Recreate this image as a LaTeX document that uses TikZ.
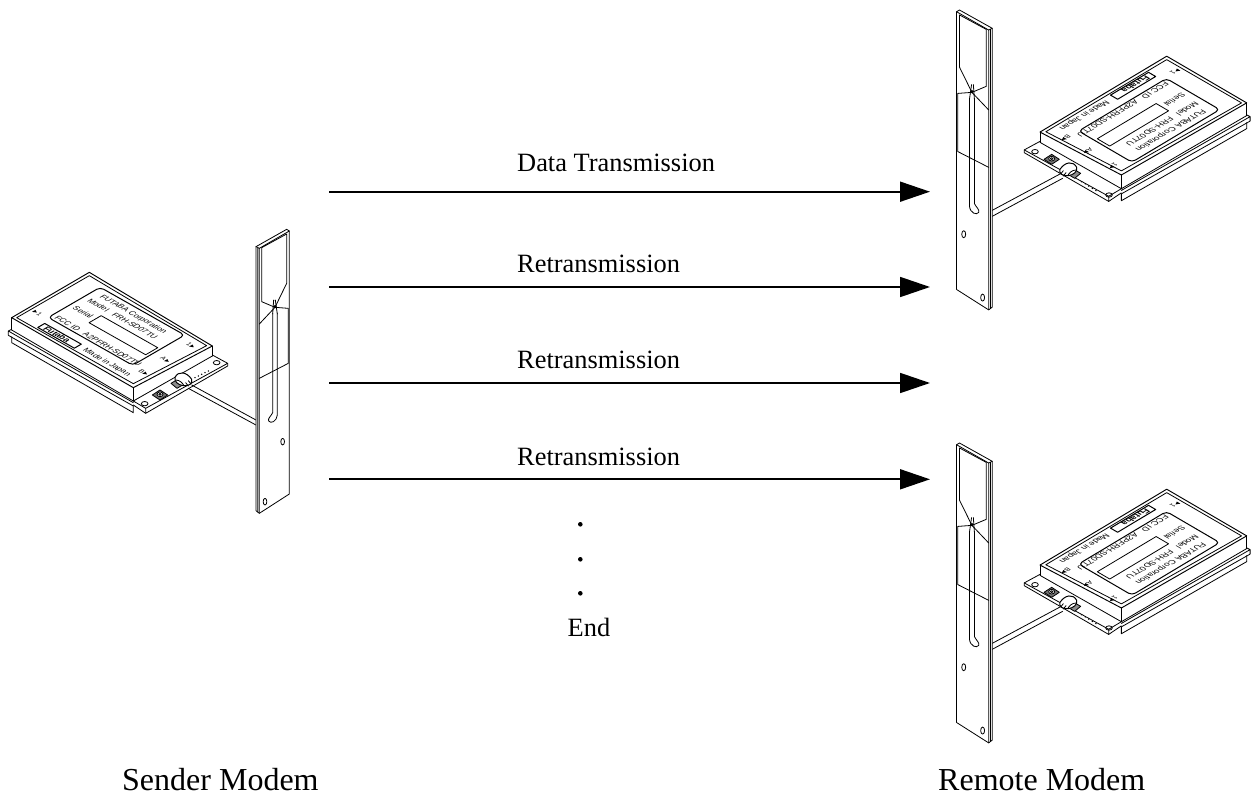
\documentclass[tikz,border=0pt]{standalone}
\usepackage{fontspec}
\setmainfont{Liberation Serif}
\newfontfamily\platefont{Liberation Sans}
\usetikzlibrary{arrows.meta}
\tikzset{
  lbl/.style={anchor=base west,inner sep=0pt,font=\fontsize{26.4}{30}\selectfont},
  captiontext/.style={anchor=base west,inner sep=0pt,font=\fontsize{32}{36}\selectfont},
  flow/.style={line width=1.8pt,-{Triangle[length=30pt,width=20pt]}},
  dotmark/.style={circle,fill=black,inner sep=0pt,minimum size=4.6pt},
  part/.style={line width=.8pt,line join=round,line cap=round},
  ptxt/.style={anchor=west,inner sep=0pt,transform shape,font=\platefont\fontsize{7.9}{9}\selectfont},
  ptiny/.style={ptxt,font=\platefont\fontsize{6.5}{8}\selectfont},
}
% Module and PCB outline, in a local frame
\newcommand{\modembody}{%
  \draw[part,line width=.95pt] (268,157)--(637,378)--(400,503)--(35,293)--cycle;
  \draw[part] (268,167)--(620,377)--(400,491)--(50,293)--cycle;
  \draw[part] (35,293)--(35,330) (400,503)--(400,543) (637,378)--(637,408);
  \draw[part] (35,330)--(400,543)--(637,408);
  \draw[part] (35,328)--(25,333)--(25,346)--(400,558) (25,333)--(400,548);
  \draw[part] (35,350)--(35,368)--(400,578)--(400,558);
  \draw[part] (400,543)--(437,565)--(683,430)--(637,405);
  \draw[part] (437,565)--(437,580)--(683,438)--(683,430);
  \draw[part] (400,555)--(437,580);
}
% Plug with its header, centred on the local origin
\newcommand{\plugblob}{%
  \draw[part,fill=black!45] (-32,12)--(-15,2)--(3,17)--(-14,27)--cycle;
  \draw[part,line width=1pt,fill=white] (-20,-6) .. controls (-10,-26) and (15,-23) .. (30,0)
     .. controls (35,12) and (20,22) .. (5,19) .. controls (-10,17) and (-23,7) .. (-20,-6);
  \draw[part] (-18,2) .. controls (-5,2) and (3,12) .. (7,19);
  \draw[part] (20,4)--(28,14) (12,10)--(20,20);
}
% Socket, centred on the local origin
\newcommand{\socketmark}{%
  \draw[part,fill=black!55] (-23,0)--(0,-15)--(23,0)--(0,15)--cycle;
  \draw[part,fill=white] (0,-2) ellipse (9 and 7);
  \draw[part] (0,-2) ellipse (4 and 3);
}
% Antenna strip, in a local frame
\newcommand{\antennabody}{%
  \draw[part,fill=white] (768,80)--(860,28)--(868,33)--(868,822)--(778,880)--(768,872)--cycle;
  \draw[part] (768,80)--(778,85)--(868,33) (778,85)--(778,880) (773,83)--(773,876);
  \draw[part] (785,83)--(860,42)--(860,190)--(825,262)--(785,245)--cycle;
  \draw[part] (778,312)--(825,262)--(865,265)--(865,430)--(778,475);
  \draw[part] (818,280)--(818,578) .. controls (812,590) and (803,595) .. (806,603)
     .. controls (812,612) and (830,605) .. (832,585)--(832,280);
  \draw[part] (818,282)--(821,240) (832,282)--(826,240);
  \fill (825,260) circle (5);
  \draw[part] (848,665) ellipse (5.5 and 10);
  \draw[part] (795,845) ellipse (5.5 and 10);
}
% Cable and PCB fittings of a remote modem, in a local frame
\newcommand{\remotefittings}{%
  \draw[part] (390,522)--(170,640) (398,535)--(170,658);
  \draw[part] (315,455) ellipse (10 and 6.5);
  \draw[part] (537,585) ellipse (10 and 6.5);
  \begin{scope}[shift={(365,478)}] \socketmark \end{scope}
  \begin{scope}[shift={(420,508)},xscale=-1] \plugblob \end{scope}
  \foreach \k in {0,...,4} \fill (455+10.7*\k,545+6.7*\k) circle (2.4);
}
% Printing on the module's top face; a runs along the long side, b along the short one
\newcommand{\modemface}[1]{%
  \draw[part,line width=1pt,rounded corners=4pt] (21,21) rectangle (118,81);
  \draw[part] (50,39) rectangle (115,53);
  \draw[part,line width=1pt] (25,5) rectangle (67,13);
  \node[ptxt] (#1-maker) at (30,72.5) {FUTABA Corporation};
  \node[ptxt] (#1-ml) at (27,62) {Model};
  \node[ptxt] (#1-mv) at (55,62) {FRH-SD07TU};
  \node[ptxt] (#1-sl) at (26,46) {Serial};
  \node[ptxt] (#1-fl) at (25,26) {FCC ID};
  \node[ptxt] (#1-fv) at (58,25.5) {A2PFRH-SD07TU};
  \node[ptxt,font=\platefont\bfseries\fontsize{8.5}{9}\selectfont] (#1-logo) at (29,9) {Futaba};
  \node[ptxt] (#1-made) at (74,9) {Made in Japan};
  \node[ptiny] (#1-p1) at (10.5,19.5) {1};
  \fill (9.5,19.5)--(6,21.5)--(6,17.5)--cycle;
  \node[ptiny] (#1-p2) at (128,74) {1};
  \fill (132,76)--(132,72)--(135.5,74)--cycle;
  \node[ptiny] (#1-pa) at (127,45) {A};
  \fill (132,47)--(132,43)--(135.5,45)--cycle;
  \node[ptiny] (#1-pb) at (127,20) {B};
  \fill (132,22)--(132,18)--(135.5,20)--cycle;
}
\begin{document}
\begin{tikzpicture}[x=1pt,y=1pt]
\useasboundingbox (0,0) rectangle (1256,-794);
% Sender modem
\begin{scope}[shift={(0,-220)},x=.33333pt,y=-.33333pt]
  \modembody
  \draw[part] (575,495)--(790,612) (565,505)--(790,627);
  \draw[part] (434,551) ellipse (10 and 6.5);
  \draw[part] (650,428) ellipse (10 and 6.5);
  \begin{scope}[shift={(480,525)}] \socketmark \end{scope}
  \begin{scope}[shift={(545,478)}] \plugblob \end{scope}
  \foreach \k in {0,...,4} \fill (585+10*\k,473-5*\k) circle (2.4);
  \antennabody
\end{scope}
\begin{scope}[cm={.871,-.493,.867,.503,(11.67,-317.67)}]
  \modemface{s}
\end{scope}
% Upper remote modem
\begin{scope}[shift={(1258.7,-2.3)},x=-.3433pt,y=-.3433pt]
  \modembody
\end{scope}
\begin{scope}[shift={(930,0)},x=.33333pt,y=-.33333pt]
  \remotefittings
\end{scope}
\begin{scope}[shift={(1266.2,-.14)},x=-.3567pt,y=-.352pt]
  \antennabody
\end{scope}
\begin{scope}[cm={-.905,-.542,.889,-.519,(1166.7,-56.2)}]
  \modemface{r}
\end{scope}
% Lower remote modem
\begin{scope}[shift={(1258.7,-435.3)},x=-.3433pt,y=-.3433pt]
  \modembody
\end{scope}
\begin{scope}[shift={(930,-433)},x=.33333pt,y=-.33333pt]
  \remotefittings
\end{scope}
\begin{scope}[shift={(1266.2,-433.14)},x=-.3567pt,y=-.352pt]
  \antennabody
\end{scope}
\begin{scope}[cm={-.905,-.542,.889,-.519,(1166.7,-489.2)}]
  \modemface{q}
\end{scope}
% Arrows
\coordinate (a1s) at (329,-191.7); \coordinate (a1e) at (930,-191.7);
\coordinate (a2s) at (329,-287);   \coordinate (a2e) at (930,-287);
\coordinate (a3s) at (329,-383);   \coordinate (a3e) at (930,-383);
\coordinate (a4s) at (329,-479.3); \coordinate (a4e) at (930,-479.3);
\draw[flow] (a1s)--(a1e);
\draw[flow] (a2s)--(a2e);
\draw[flow] (a3s)--(a3e);
\draw[flow] (a4s)--(a4e);
% Labels
\node[lbl] (t1) at (517,-172) {Data Transmission};
\node[lbl] (t2) at (517,-272.3) {Retransmission};
\node[lbl] (t3) at (517,-368.5) {Retransmission};
\node[lbl] (t4) at (517,-465) {Retransmission};
\node[dotmark] (d1) at (580.3,-524.3) {};
\node[dotmark] (d2) at (580.3,-559.3) {};
\node[dotmark] (d3) at (580.3,-593.3) {};
\node[lbl] (t5) at (567.5,-636) {End};
\node[captiontext] (c1) at (122,-790) {Sender Modem};
\node[captiontext] (c2) at (938,-790) {Remote Modem};
\end{tikzpicture}
\end{document}
